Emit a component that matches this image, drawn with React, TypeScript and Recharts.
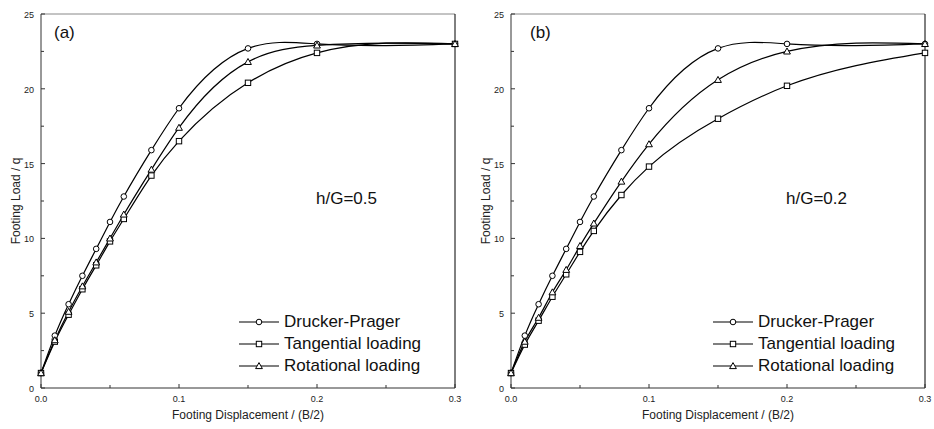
import { LineChart, Line, XAxis, YAxis, ReferenceLine, Legend } from 'recharts';

const disp = [0, 0.01, 0.02, 0.03, 0.04, 0.05, 0.06, 0.08, 0.1, 0.15, 0.2, 0.3];

// h/G = 0.5
const dpA = [1.0, 3.5, 5.6, 7.5, 9.3, 11.1, 12.8, 15.9, 18.7, 22.7, 23.0, 23.0];
const tanA = [1.0, 3.1, 4.9, 6.6, 8.2, 9.8, 11.3, 14.2, 16.5, 20.4, 22.4, 23.0];
const rotA = [1.0, 3.2, 5.1, 6.8, 8.4, 10.0, 11.6, 14.6, 17.4, 21.8, 22.9, 23.0];

// h/G = 0.2
const dpB = [1.0, 3.5, 5.6, 7.5, 9.3, 11.1, 12.8, 15.9, 18.7, 22.7, 23.0, 23.0];
const tanB = [1.0, 2.9, 4.5, 6.1, 7.6, 9.1, 10.5, 12.9, 14.8, 18.0, 20.2, 22.4];
const rotB = [1.0, 3.1, 4.7, 6.4, 7.9, 9.5, 11.0, 13.8, 16.3, 20.6, 22.5, 23.0];

const xTicks = [0, 0.05, 0.1, 0.15, 0.2, 0.25, 0.3];
const yTicks = [0, 2.5, 5, 7.5, 10, 12.5, 15, 17.5, 20, 22.5, 25];
const seriesNames = ['Drucker-Prager', 'Tangential loading', 'Rotational loading'];

const font = '"Liberation Sans", Arial, sans-serif';

const build = (dp: number[], tan: number[], rot: number[]) =>
  disp.map((d, i) => ({ d, dp: dp[i], tan: tan[i], rot: rot[i] }));

// natural cubic spline of y as a function of x (like the plotting program's spline connect)
const splineX = (context: any) => {
  let xs: number[] = [];
  let ys: number[] = [];
  return {
    areaStart() {},
    areaEnd() {},
    lineStart() {
      xs = [];
      ys = [];
    },
    point(x: number, y: number) {
      xs.push(+x);
      ys.push(+y);
    },
    lineEnd() {
      const n = xs.length;
      if (!n) return;
      context.moveTo(xs[0], ys[0]);
      if (n < 3) {
        if (n === 2) context.lineTo(xs[1], ys[1]);
        return;
      }
      const h: number[] = [];
      for (let i = 0; i < n - 1; i++) h[i] = xs[i + 1] - xs[i];
      const M = new Array(n).fill(0);
      const cp: number[] = [];
      const rp: number[] = [];
      for (let i = 1; i < n - 1; i++) {
        const a = h[i - 1];
        const b = 2 * (h[i - 1] + h[i]);
        const r = 6 * ((ys[i + 1] - ys[i]) / h[i] - (ys[i] - ys[i - 1]) / h[i - 1]);
        const den = b - (i > 1 ? a * cp[i - 1] : 0);
        cp[i] = h[i] / den;
        rp[i] = (r - (i > 1 ? a * rp[i - 1] : 0)) / den;
      }
      for (let i = n - 2; i >= 1; i--) M[i] = rp[i] - (i < n - 2 ? cp[i] * M[i + 1] : 0);
      for (let i = 0; i < n - 1; i++) {
        const hh = h[i];
        const d = (ys[i + 1] - ys[i]) / hh;
        const s0 = d - (hh * (2 * M[i] + M[i + 1])) / 6;
        const s1 = d + (hh * (M[i] + 2 * M[i + 1])) / 6;
        context.bezierCurveTo(xs[i] + hh / 3, ys[i] + (s0 * hh) / 3, xs[i + 1] - hh / 3, ys[i + 1] - (s1 * hh) / 3, xs[i + 1], ys[i + 1]);
      }
    },
  };
};

const isMajor = (v: number, step: number) => Math.abs(v / step - Math.round(v / step)) < 1e-6;

const XTick = ({ x, y, payload }: any) => {
  const major = isMajor(payload.value, 0.1);
  return (
    <g>
      <line x1={x} x2={x} y1={y} y2={y - (major ? 4 : 3)} stroke="#333" />
      {major && (
        <text x={x} y={y + 14} textAnchor="middle" fontSize={9} fontFamily={font} fill="#222">
          {payload.value.toFixed(1)}
        </text>
      )}
    </g>
  );
};

const YTick = ({ x, y, payload }: any) => {
  const major = isMajor(payload.value, 5);
  return (
    <g>
      <line x1={x} x2={x + (major ? 4 : 3)} y1={y} y2={y} stroke="#333" />
      {major && (
        <text x={x - 7} y={y + 4} textAnchor="end" fontSize={9} fontFamily={font} fill="#222">
          {payload.value}
        </text>
      )}
    </g>
  );
};

const Circ = ({ cx, cy }: any) =>
  cx == null ? null : <circle cx={cx} cy={cy} r={2.8} fill="#fff" stroke="#000" strokeWidth={1} />;
const Sq = ({ cx, cy }: any) =>
  cx == null ? null : <rect x={cx - 2.7} y={cy - 2.7} width={5.4} height={5.4} fill="#fff" stroke="#000" strokeWidth={1} />;
const Tri = ({ cx, cy }: any) =>
  cx == null ? null : (
    <polygon points={`${cx},${cy - 3.4} ${cx + 3.4},${cy + 2.6} ${cx - 3.4},${cy + 2.6}`} fill="#fff" stroke="#000" strokeWidth={1} />
  );

const markers = [Circ, Sq, Tri];

const LegendBox = () => (
  <div style={{ fontFamily: font, fontSize: 17, color: '#111' }}>
    {seriesNames.map((name, i) => {
      const M = markers[i];
      return (
        <div key={name} style={{ display: 'flex', alignItems: 'center', height: 22 }}>
          <svg width={40} height={10} style={{ display: 'block' }}>
            <line x1={0} x2={40} y1={5} y2={5} stroke="#000" strokeWidth={1.2} />
            <M cx={20} cy={5} />
          </svg>
          <span style={{ marginLeft: 5, whiteSpace: 'nowrap' }}>{name}</span>
        </div>
      );
    })}
  </div>
);

const Panel = ({ data, axisW, tag, tagX, note, noteX, legendX }: any) => (
  <div style={{ position: 'relative', width: 467, height: 429 }}>
    <LineChart width={467} height={429} data={data} margin={{ top: 14, right: 467 - axisW - 414, left: 0, bottom: 0 }}>
      <XAxis
        dataKey="d"
        type="number"
        domain={[0, 0.3]}
        ticks={xTicks}
        tick={<XTick />}
        tickSize={0}
        tickMargin={0}
        tickLine={false}
        height={41}
        stroke="#333"
        interval={0}
        label={{ value: 'Footing Displacement / (B/2)', position: 'insideBottom', offset: 10, fontSize: 12, fontFamily: font, fill: '#222' }}
      />
      <YAxis
        type="number"
        domain={[0, 25]}
        ticks={yTicks}
        tick={<YTick />}
        tickSize={0}
        tickMargin={0}
        tickLine={false}
        width={axisW}
        stroke="#333"
        interval={0}
        label={{ value: 'Footing Load / q', angle: -90, position: 'insideLeft', offset: axisW - 25, fontSize: 12, fontFamily: font, fill: '#222', style: { textAnchor: 'middle' } }}
      />
      <ReferenceLine y={25} stroke="#888" />
      <ReferenceLine x={0.3} stroke="#000" />
      <Legend layout="vertical" align="center" verticalAlign="middle" content={<LegendBox />}
        wrapperStyle={{ left: legendX, top: 311, width: 'auto', height: 'auto' }} />
      <Line type={splineX as any} dataKey="dp" name={seriesNames[0]} stroke="#000" strokeWidth={1.2} dot={<Circ />} activeDot={false} isAnimationActive={false} />
      <Line type={splineX as any} dataKey="tan" name={seriesNames[1]} stroke="#000" strokeWidth={1.2} dot={<Sq />} activeDot={false} isAnimationActive={false} />
      <Line type={splineX as any} dataKey="rot" name={seriesNames[2]} stroke="#000" strokeWidth={1.2} dot={<Tri />} activeDot={false} isAnimationActive={false} />
    </LineChart>
    <div style={{ position: 'absolute', left: tagX, top: 24, fontFamily: font, fontSize: 17, lineHeight: '17px', color: '#111' }}>{tag}</div>
    <div style={{ position: 'absolute', left: noteX, top: 190, fontFamily: font, fontSize: 17, lineHeight: '17px', color: '#111' }}>{note}</div>
  </div>
);

export default function App() {
  const a = build(dpA, tanA, rotA);
  const b = build(dpB, tanB, rotB);
  return (
    <div style={{ position: 'absolute', left: 0, top: 0, width: 934, height: 429, background: '#fff', display: 'flex' }}>
      <Panel data={a} axisW={41} tag="(a)" tagX={54} note="h/G=0.5" noteX={316} legendX={239} />
      <Panel data={b} axisW={44} tag="(b)" tagX={63} note="h/G=0.2" noteX={319} legendX={246} />
    </div>
  );
}
